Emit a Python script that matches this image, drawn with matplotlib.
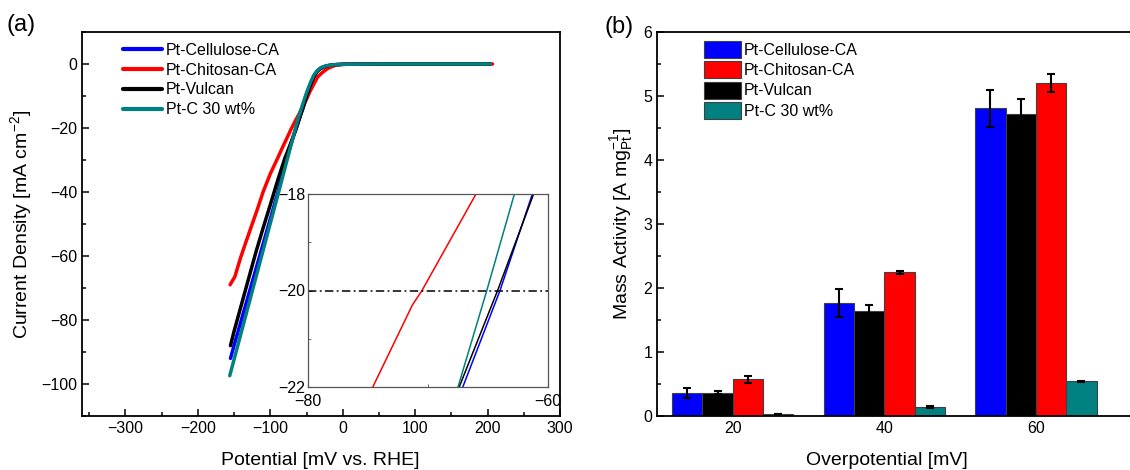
import matplotlib
matplotlib.use("Agg")
import matplotlib.pyplot as plt
from matplotlib.patches import Patch
from matplotlib.ticker import MultipleLocator
import numpy as np

plt.rcParams['font.family'] = ['Liberation Sans', 'DejaVu Sans']
plt.rcParams['mathtext.fontset'] = 'custom'
plt.rcParams['mathtext.rm'] = 'Liberation Sans'
plt.rcParams['mathtext.it'] = 'Liberation Sans:italic'
plt.rcParams['mathtext.default'] = 'regular'

# ---------------- data: polarization curves (a) ----------------
series_names = ["Pt-Cellulose-CA", "Pt-Chitosan-CA", "Pt-Vulcan", "Pt-C 30 wt%"]
line_colors = ["#0000FF", "#FF0000", "#000000", "#008080"]

pot_cellulose = [-155, -150, -140, -130, -120, -110, -100, -90, -80, -72, -67.1, -64.0, -61.3,
                 -55, -50, -45, -40, -35, -30, -25, -20, -10, 0, 50, 100, 150, 204]
cur_cellulose = [-92, -87.9, -80, -72.1, -64.2, -56.3, -48.4, -40.5, -31.5, -25.4, -22, -20, -18,
                 -13.8, -10.2, -6.8, -4.0, -2.2, -1.3, -0.8, -0.5, -0.2, -0.1, 0, 0, 0, 0]

pot_chitosan = [-155.5, -153, -149, -145, -141, -135, -125, -118, -110, -100, -90, -82, -74.6,
                -71.3, -70.5, -66, -60, -55, -50, -45, -40, -35, -30, -25, -20, -10, 0, 50, 100, 150, 207]
cur_chitosan = [-69, -68, -66.5, -63.5, -60.5, -56.5, -50, -45.5, -40, -34.3, -29.5, -25.5, -22,
                -20.3, -20, -18, -15.5, -13.2, -11, -8.5, -6.3, -4.2, -3.0, -2.1, -1.3, -0.4, -0.1, 0, 0, 0, 0]

pot_vulcan = [-155, -150, -140, -130, -120, -110, -100, -90, -80, -72, -67.4, -64.2, -61.2,
              -55, -50, -45, -40, -35, -30, -25, -20, -10, 0, 50, 100, 150, 204]
cur_vulcan = [-88, -83.5, -75.3, -67.1, -58.9, -51.3, -44, -36.5, -29.5, -24.9, -22, -20, -18,
              -13.8, -10.2, -6.8, -4.0, -2.2, -1.3, -0.8, -0.5, -0.2, -0.1, 0, 0, 0, 0]

pot_ptc = [-156, -150, -140, -130, -120, -110, -100, -90, -80, -70, -67.5, -65.1, -62.8,
           -60, -55, -50, -45, -40, -35, -30, -25, -20, -10, 0, 50, 100, 150, 204]
cur_ptc = [-97.4, -92.3, -83.8, -75.3, -66.8, -58.3, -49.8, -41.3, -32.7, -24.2, -22, -20, -18,
           -16.0, -12.4, -9.0, -6.0, -3.5, -2.0, -1.1, -0.7, -0.45, -0.2, -0.1, 0, 0, 0, 0]

# ---------------- data: mass activity (b) ----------------
overpotentials = [20, 40, 60]
ma_cellulose = [0.355, 1.767, 4.81]
ma_cellulose_err = [0.08, 0.215, 0.29]
ma_vulcan = [0.365, 1.648, 4.713]
ma_vulcan_err = [0.02, 0.085, 0.245]
ma_chitosan = [0.573, 2.247, 5.203]
ma_chitosan_err = [0.05, 0.025, 0.14]
ma_ptc = [0.03, 0.14, 0.542]
ma_ptc_err = [0.005, 0.01, 0.01]
bar_colors = {"Pt-Cellulose-CA": "#0000FF", "Pt-Chitosan-CA": "#FF0000",
              "Pt-Vulcan": "#000000", "Pt-C 30 wt%": "#008080"}

W, H = 1130, 470
fig = plt.figure(figsize=(W / 100, H / 100), dpi=100)

def fr(l, t, r, b):
    return [l / W, 1 - b / H, (r - l) / W, (b - t) / H]

TICK_FS = 11.5
LABEL_FS = 14
LEG_FS = 11.5

# ---------------- panel (a) ----------------
ax = fig.add_axes(fr(82, 32, 560, 416))
curves = [(pot_cellulose, cur_cellulose), (pot_chitosan, cur_chitosan),
          (pot_vulcan, cur_vulcan), (pot_ptc, cur_ptc)]
for (px, py), name, c in zip(curves, series_names, line_colors):
    ax.plot(px, py, color=c, lw=2.5, label=name, solid_capstyle='round')
ax.set_xlim(-360, 300)
ax.set_ylim(-110, 10)
ax.xaxis.set_major_locator(MultipleLocator(100))
ax.xaxis.set_minor_locator(MultipleLocator(50))
ax.yaxis.set_major_locator(MultipleLocator(20))
ax.yaxis.set_minor_locator(MultipleLocator(10))
ax.tick_params(which='both', direction='in', labelsize=TICK_FS, width=1.1)
ax.tick_params(which='major', length=5)
ax.tick_params(which='minor', length=3)
for s in ax.spines.values():
    s.set_linewidth(1.3)
ax.set_xlabel("Potential [mV vs. RHE]", fontsize=LABEL_FS)
ax.set_ylabel("Current Density [mA cm$^{-2}$]", fontsize=LABEL_FS)
ax.xaxis.set_label_coords(0.498, -0.095)
ax.yaxis.set_label_coords(-0.100, 0.5)
leg = ax.legend(loc='upper left', bbox_to_anchor=(0.086, 0.972), frameon=False,
                fontsize=LEG_FS, handlelength=2.45, handletextpad=0.25,
                labelspacing=0.3, borderpad=0, borderaxespad=0)
for h in leg.get_lines():
    h.set_linewidth(3)

# inset
axi = fig.add_axes(fr(308, 194, 548, 387))
for (px, py), c in zip(curves, line_colors):
    axi.plot(px, py, color=c, lw=1.1)
axi.axhline(-20, color='black', lw=1.1, linestyle=(0, (5.5, 2.2, 1.2, 2.2)))
axi.set_xlim(-80, -60)
axi.set_ylim(-22, -18)
axi.xaxis.set_major_locator(MultipleLocator(20))
axi.xaxis.set_minor_locator(MultipleLocator(10))
axi.yaxis.set_major_locator(MultipleLocator(2))
axi.yaxis.set_minor_locator(MultipleLocator(1))
axi.tick_params(which='both', direction='in', labelsize=TICK_FS, color='#555555')
axi.tick_params(axis='x', pad=5)
axi.tick_params(axis='y', pad=2)
axi.tick_params(which='major', length=3)
axi.tick_params(which='minor', length=2)
for s in axi.spines.values():
    s.set_linewidth(0.9)
    s.set_color('#555555')

# ---------------- panel (b) ----------------
bx = fig.add_axes(fr(657, 32, 1142, 416))
width = 4
groups = [("Pt-Cellulose-CA", ma_cellulose, ma_cellulose_err, -6),
          ("Pt-Vulcan", ma_vulcan, ma_vulcan_err, -2),
          ("Pt-Chitosan-CA", ma_chitosan, ma_chitosan_err, 2),
          ("Pt-C 30 wt%", ma_ptc, ma_ptc_err, 6)]
xs = np.array(overpotentials, dtype=float)
for name, vals, errs, off in groups:
    bx.bar(xs + off, vals, width=width, color=bar_colors[name], edgecolor='#404040',
           linewidth=0.8, yerr=errs, capsize=3.2,
           error_kw=dict(ecolor='black', elinewidth=1.5, capthick=1.5), zorder=2)
bx.set_xlim(10, 74)
bx.set_ylim(0, 6)
bx.set_xticks(overpotentials)
bx.yaxis.set_major_locator(MultipleLocator(1))
bx.yaxis.set_minor_locator(MultipleLocator(0.5))
bx.tick_params(which='both', direction='in', labelsize=TICK_FS, width=1.1)
bx.tick_params(which='major', length=5)
bx.tick_params(which='minor', length=3)
bx.tick_params(axis='x', which='minor', bottom=False)
for s in bx.spines.values():
    s.set_linewidth(1.3)
bx.set_xlabel("Overpotential [mV]", fontsize=LABEL_FS)
bx.set_ylabel("Mass Activity [A mg$_{Pt}^{-1}$]", fontsize=LABEL_FS)
bx.xaxis.set_label_coords(0.473, -0.095)
bx.yaxis.set_label_coords(-0.045, 0.5)
handles = [Patch(facecolor=bar_colors[n], edgecolor='#404040', linewidth=0.8) for n in series_names]
bx.legend(handles, series_names, loc='upper left', bbox_to_anchor=(0.097, 0.977), frameon=False,
          fontsize=LEG_FS, handlelength=2.3, handleheight=1.25, handletextpad=0.2,
          labelspacing=0.22, borderpad=0, borderaxespad=0)

fig.text(6 / W, 1 - 25 / H, "(a)", fontsize=17, va='center', ha='left')
fig.text(604 / W, 1 - 27 / H, "(b)", fontsize=17, va='center', ha='left')

fig.savefig("out.png", dpi=100)
